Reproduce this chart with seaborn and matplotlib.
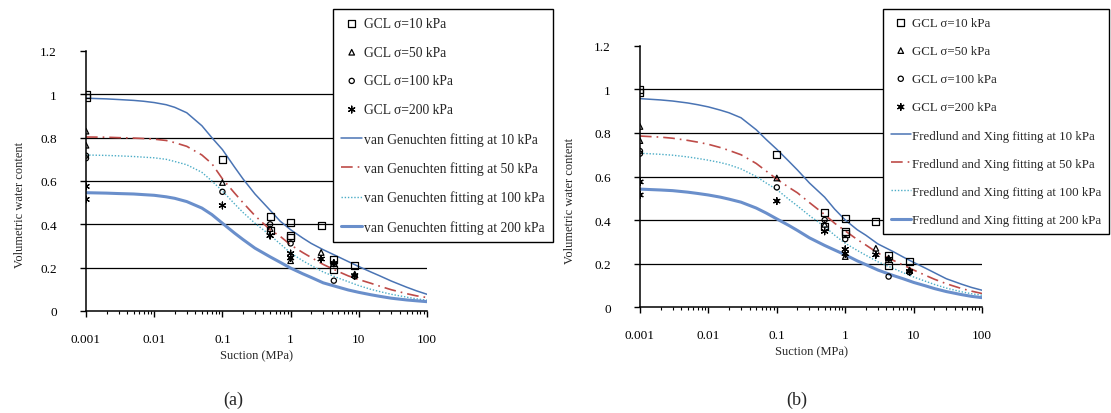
import numpy as np
import pandas as pd
import matplotlib
matplotlib.use("Agg")
import matplotlib.pyplot as plt
import seaborn as sns

sns.set_theme(style="ticks")
plt.rcParams['font.family'] = ['Liberation Serif', 'DejaVu Serif']

# 测量数据（两图共用）
gcl10_s = [0.001, 0.001, 0.1, 0.5, 0.5, 1, 1, 1, 2.8, 4.3, 4.3, 8.7]
gcl10_w = [1.0, 0.985, 0.70, 0.435, 0.372, 0.408, 0.348, 0.338, 0.393, 0.237, 0.19, 0.208]
gcl50_s = [0.001, 0.001, 0.1, 0.5, 1, 2.8, 4.3, 8.7]
gcl50_w = [0.83, 0.765, 0.593, 0.38, 0.232, 0.27, 0.225, 0.17]
gcl100_s = [0.001, 0.001, 0.1, 0.5, 1, 4.3, 8.7]
gcl100_w = [0.717, 0.705, 0.55, 0.40, 0.312, 0.14, 0.16]
gcl200_s = [0.001, 0.001, 0.1, 0.5, 1, 1, 2.8, 4.3, 8.7]
gcl200_w = [0.575, 0.515, 0.487, 0.348, 0.265, 0.245, 0.24, 0.22, 0.163]

# 拟合曲线
fit_s = [0.001, 0.002, 0.003, 0.005, 0.007, 0.01, 0.015, 0.02, 0.03, 0.05,
         0.07, 0.1, 0.15, 0.2, 0.3, 0.5, 0.7, 1, 1.5, 2,
         3, 5, 7, 10, 15, 20, 30, 50, 70, 100]
# (a) van Genuchten
vg10 = [0.982, 0.979, 0.976, 0.972, 0.968, 0.962, 0.952, 0.94, 0.915, 0.855,
        0.80, 0.745, 0.665, 0.61, 0.54, 0.465, 0.415, 0.375, 0.337, 0.312,
        0.283, 0.25, 0.228, 0.205, 0.18, 0.163, 0.138, 0.11, 0.093, 0.077]
vg50 = [0.803, 0.802, 0.80, 0.798, 0.796, 0.793, 0.787, 0.777, 0.76, 0.72,
        0.68, 0.61, 0.545, 0.50, 0.44, 0.375, 0.345, 0.305, 0.27, 0.247,
        0.215, 0.182, 0.162, 0.145, 0.128, 0.115, 0.098, 0.08, 0.07, 0.062]
vg100 = [0.72, 0.718, 0.716, 0.713, 0.71, 0.707, 0.70, 0.69, 0.675, 0.64,
         0.60, 0.554, 0.495, 0.455, 0.405, 0.35, 0.31, 0.268, 0.232, 0.21,
         0.18, 0.152, 0.135, 0.117, 0.10, 0.09, 0.077, 0.064, 0.056, 0.05]
vg200 = [0.546, 0.544, 0.542, 0.54, 0.537, 0.534, 0.527, 0.52, 0.505, 0.475,
         0.445, 0.405, 0.36, 0.33, 0.29, 0.25, 0.225, 0.198, 0.172, 0.155,
         0.13, 0.11, 0.097, 0.086, 0.075, 0.068, 0.059, 0.051, 0.047, 0.043]
# (b) Fredlund and Xing
fx10 = [0.958, 0.952, 0.947, 0.938, 0.93, 0.92, 0.905, 0.893, 0.87, 0.815,
        0.77, 0.725, 0.67, 0.63, 0.57, 0.505, 0.45, 0.40, 0.355, 0.33,
        0.29, 0.255, 0.23, 0.205, 0.178, 0.158, 0.13, 0.105, 0.09, 0.077]
fx50 = [0.786, 0.781, 0.776, 0.766, 0.758, 0.748, 0.733, 0.72, 0.70, 0.66,
        0.625, 0.588, 0.55, 0.525, 0.48, 0.425, 0.385, 0.35, 0.31, 0.285,
        0.248, 0.215, 0.193, 0.17, 0.145, 0.128, 0.107, 0.085, 0.073, 0.062]
fx100 = [0.707, 0.702, 0.698, 0.69, 0.683, 0.675, 0.664, 0.654, 0.635, 0.60,
         0.57, 0.54, 0.495, 0.465, 0.42, 0.37, 0.33, 0.293, 0.26, 0.238,
         0.208, 0.178, 0.158, 0.138, 0.118, 0.104, 0.087, 0.07, 0.061, 0.054]
fx200 = [0.542, 0.538, 0.535, 0.528, 0.522, 0.515, 0.505, 0.496, 0.482, 0.455,
         0.432, 0.405, 0.375, 0.352, 0.318, 0.283, 0.262, 0.24, 0.212, 0.195,
         0.17, 0.145, 0.13, 0.113, 0.097, 0.085, 0.071, 0.057, 0.049, 0.043]

stress = ['10', '50', '100', '200']
x_ticks = [0.001, 0.01, 0.1, 1, 10, 100]
x_tick_labels = ['0.001', '0.01', '0.1', '1', '10', '100']
y_ticks = [0, 0.2, 0.4, 0.6, 0.8, 1.0, 1.2]
y_tick_labels = ['0', '0.2', '0.4', '0.6', '0.8', '1', '1.2']
grid_levels = y_ticks[1:-1]

measured = [(gcl10_s, gcl10_w, 's', 26), (gcl50_s, gcl50_w, '^', 16),
            (gcl100_s, gcl100_w, 'o', 14), (gcl200_s, gcl200_w, (6, 2, 0), 24)]
line_styles = [dict(color='#4A74B4', linewidth=1.1, linestyle='-'),
               dict(color='#BE4B48', linewidth=1.2, linestyle=(0, (7, 3, 1, 3))),
               dict(color='#4BACC6', linewidth=1.0, linestyle=(0, (1, 1.3))),
               dict(color='#6A8FCB', linewidth=2.2, linestyle='-')]

fig = plt.figure(figsize=(11.11, 4.14), dpi=100)
ax_a = fig.add_axes([0.0774, 0.2464, 0.307, 0.628])
ax_b = fig.add_axes([0.576, 0.256, 0.308, 0.6305])

# 每个子图：坐标轴、拟合曲线、图例文字、图例位置、图例字号、y标签位置、编号
panels = [(ax_a, [vg10, vg50, vg100, vg200], 'van Genuchten fitting at {} kPa',
           (333 / 1111, 1 - 10 / 414), 9.8, 1.15, (-0.176, 0.41), '(a)', 233 / 1111),
          (ax_b, [fx10, fx50, fx100, fx200], 'Fredlund and Xing fitting at {} kPa',
           (883 / 1111, 1 - 10 / 414), 9.3, 1.25, (-0.187, 0.41), '(b)', 797 / 1111)]

for ax, fits, fit_label, leg_pos, leg_fs, leg_sp, ylab_pos, tag, tag_x in panels:
    for lvl in grid_levels:
        ax.axhline(lvl, color='black', linewidth=0.9, zorder=0.5)

    for (s, w, mk, size), p in zip(measured, stress):
        sns.scatterplot(x=s, y=w, ax=ax, marker=mk, s=size, color='black',
                        linewidth=0.9, label='GCL σ={} kPa'.format(p), zorder=3)
        pts = ax.collections[-1]
        pts.set_facecolor('none')
        pts.set_edgecolor('black')

    for vals, p, st in zip(fits, stress, line_styles):
        sns.lineplot(x=fit_s, y=vals, ax=ax, label=fit_label.format(p), zorder=2, **st)

    ax.set_xscale('log')
    ax.set_xlim(0.001, 100)
    ax.set_ylim(0, 1.2)
    ax.set_xticks(x_ticks)
    ax.set_xticklabels(x_tick_labels)
    ax.set_yticks(y_ticks)
    ax.set_yticklabels(y_tick_labels)
    ax.tick_params(axis='y', direction='out', length=4, width=1, pad=17, labelsize=9.5, colors='black')
    ax.tick_params(axis='x', which='major', direction='out', length=4, width=1, pad=12, labelsize=9.5, colors='black')
    ax.tick_params(axis='x', which='minor', direction='out', length=2.5, width=0.8, colors='black')
    for side in ['top', 'right']:
        ax.spines[side].set_visible(False)
    for side in ['left', 'bottom']:
        ax.spines[side].set_color('black')
        ax.spines[side].set_linewidth(1.1)
    ax.set_xlabel('Suction (MPa)', fontsize=9, labelpad=3)
    ax.set_ylabel('Volumetric water content', fontsize=9)
    ax.yaxis.set_label_coords(*ylab_pos)

    leg = ax.legend(loc='upper left', bbox_to_anchor=leg_pos, bbox_transform=fig.transFigure,
                    borderaxespad=0, fontsize=leg_fs, handlelength=1.55, handletextpad=0.12,
                    labelspacing=leg_sp, borderpad=0.6, fancybox=False, framealpha=1,
                    edgecolor='black', scatterpoints=1)
    leg.get_frame().set_linewidth(1.0)

    fig.text(tag_x, 1 - 400 / 414, tag, ha='center', va='center', fontsize=13)

fig.savefig('out.png', dpi=100)
